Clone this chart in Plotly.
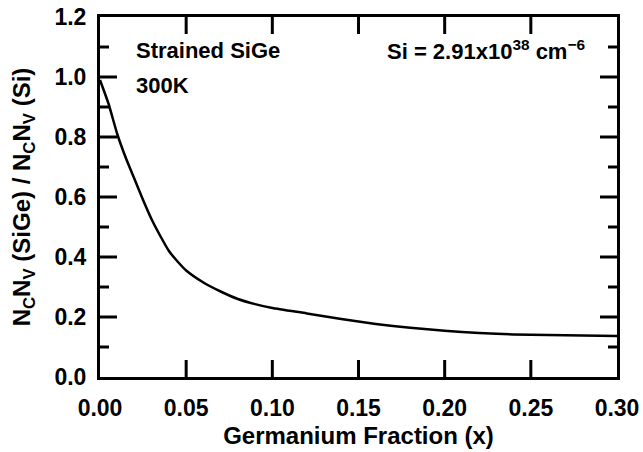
import plotly.graph_objects as go

# Data
ge_fraction = [0.0, 0.005, 0.01, 0.015, 0.02, 0.025, 0.03, 0.035, 0.04, 0.045,
               0.05, 0.06, 0.07, 0.08, 0.09, 0.10, 0.12, 0.14, 0.16, 0.18,
               0.20, 0.22, 0.24, 0.26, 0.28, 0.30]
ncnv_ratio = [0.99, 0.91, 0.81, 0.73, 0.66, 0.59, 0.525, 0.47, 0.42, 0.385,
              0.355, 0.315, 0.285, 0.26, 0.243, 0.230, 0.212, 0.193, 0.177, 0.164,
              0.154, 0.147, 0.142, 0.140, 0.138, 0.137]

x_ticks = [0.0, 0.05, 0.10, 0.15, 0.20, 0.25, 0.30]
y_ticks = [0.0, 0.2, 0.4, 0.6, 0.8, 1.0, 1.2]
y_minor_ticks = [0.1, 0.3, 0.5, 0.7, 0.9, 1.1]
x_range = [0, 0.30]
y_range = [0, 1.2]

FONT = "Liberation Sans, Arial, sans-serif"
WIDTH, HEIGHT = 643, 452
MARGIN = dict(l=100, r=26, t=17, b=75)
MAJOR_LEN = 17   # px
MINOR_LEN = 9    # px

fig = go.Figure()

# Inward-pointing tick marks on all four sides, built from the tick lists
plot_w = WIDTH - MARGIN["l"] - MARGIN["r"]
plot_h = HEIGHT - MARGIN["t"] - MARGIN["b"]
dx_per_px = (x_range[1] - x_range[0]) / plot_w
dy_per_px = (y_range[1] - y_range[0]) / plot_h

tick_x, tick_y = [], []
for v in x_ticks[1:-1]:
    tick_x += [v, v, None, v, v, None]
    tick_y += [y_range[0], y_range[0] + MAJOR_LEN * dy_per_px, None,
               y_range[1], y_range[1] - MAJOR_LEN * dy_per_px, None]
for vals, length in ((y_ticks[1:-1], MAJOR_LEN), (y_minor_ticks, MINOR_LEN)):
    for v in vals:
        tick_x += [x_range[0], x_range[0] + length * dx_per_px, None,
                   x_range[1], x_range[1] - length * dx_per_px, None]
        tick_y += [v, v, None, v, v, None]

fig.add_trace(go.Scatter(
    x=tick_x, y=tick_y, mode="lines", connectgaps=False,
    line=dict(color="black", width=3),
    showlegend=False, hoverinfo="skip", cliponaxis=False,
))

fig.add_trace(go.Scatter(
    x=ge_fraction, y=ncnv_ratio, mode="lines",
    line=dict(color="black", width=2.5, shape="spline", smoothing=0.5),
    showlegend=False, hoverinfo="skip",
))

label_font = dict(family=FONT, size=23, color="black", weight="bold")
title_font = dict(family=FONT, size=24, color="black", weight="bold")

fig.update_layout(
    xaxis=dict(
        range=x_range, tickmode="array", tickvals=x_ticks, tickformat=".2f",
        showline=True, linecolor="black", linewidth=3, mirror=True,
        ticks="", showgrid=False, zeroline=False, automargin=False,
        tickfont=label_font, ticklabelstandoff=8,
        title=dict(text="Germanium Fraction (x)", font=title_font, standoff=8),
    ),
    yaxis=dict(
        range=y_range, tickmode="array", tickvals=y_ticks, tickformat=".1f",
        showline=True, linecolor="black", linewidth=3, mirror=True,
        ticks="", showgrid=False, zeroline=False, automargin=False,
        tickfont=label_font, ticklabelstandoff=6,
        title=dict(text="N<sub>C</sub>N<sub>V</sub> (SiGe) / N<sub>C</sub>N<sub>V</sub> (Si)",
                   font=title_font, standoff=18),
    ),
)

ann_font = dict(family=FONT, size=22, color="black", weight="bold")
fig.add_annotation(x=0.0198, y=1.089, xref="x", yref="y", text="Strained SiGe",
                   showarrow=False, xanchor="left", yanchor="middle", font=ann_font)
fig.add_annotation(x=0.0198, y=0.972, xref="x", yref="y", text="300K",
                   showarrow=False, xanchor="left", yanchor="middle", font=ann_font)
fig.add_annotation(x=0.2826, y=1.089, xref="x", yref="y",
                   text="Si = 2.91x10<sup>38</sup> cm<sup>\u22126</sup>",
                   showarrow=False, xanchor="right", yanchor="middle", font=ann_font)

fig.update_layout(
    width=WIDTH, height=HEIGHT,
    margin=MARGIN,
    paper_bgcolor="white", plot_bgcolor="white",
    font=dict(family=FONT, color="black"),
)

fig.write_html("out.html")
